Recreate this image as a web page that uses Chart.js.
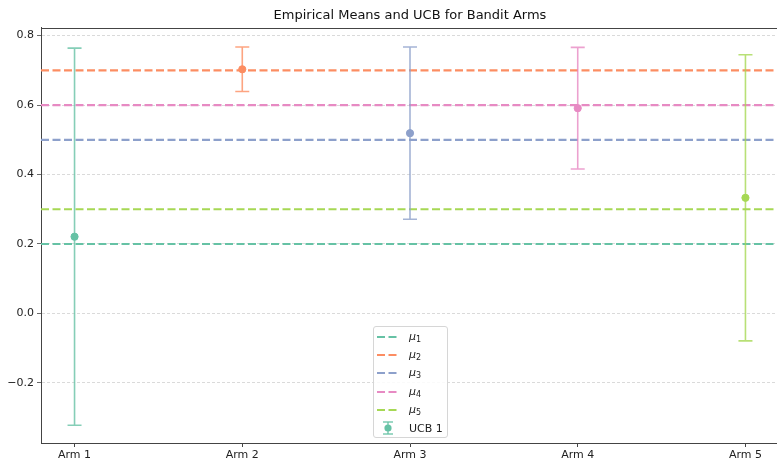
<!DOCTYPE html>
<html>
<head>
<meta charset="utf-8">
<script src="https://cdn.jsdelivr.net/npm/chart.js@4.4.1/dist/chart.umd.min.js"></script>
<style>
  body { margin: 0; background: #fff; overflow: hidden; }
  #wrap { position: relative; width: 784px; height: 462px; }
  #legend {
    position: absolute; left: 373px; top: 326px; width: 73px; height: 110px;
    border: 1px solid #d6d6d6; border-radius: 3px; background: rgba(255,255,255,0.85);
    font-family: "DejaVu Sans", sans-serif; font-size: 11px; color: #222;
  }
  .row { position: absolute; left: 0; height: 18px; display: flex; align-items: center; }
  .row svg { margin-left: 3px; margin-right: 10px; }
  .mu { font-style: italic; }
  .row sub { font-size: 8px; vertical-align: -2px; font-style: normal; }
</style>
</head>
<body>
<div id="wrap">
  <canvas id="grafico" width="784" height="462"></canvas>
  <div id="legend"></div>
</div>
<script>
// dados
const arms = ['Arm 1', 'Arm 2', 'Arm 3', 'Arm 4', 'Arm 5'];
const trueMeans = [0.2, 0.7, 0.5, 0.6, 0.3];
const empMeans = [0.221, 0.703, 0.519, 0.591, 0.333];
const ucbWidth = [0.543, 0.064, 0.248, 0.175, 0.412];
const cores = ['#66c2a5', '#fc8d62', '#8da0cb', '#e78ac3', '#a6d854'];

function rgba(hex, a) {
    let r = parseInt(hex.slice(1, 3), 16), g = parseInt(hex.slice(3, 5), 16), b = parseInt(hex.slice(5, 7), 16);
    return `rgba(${r},${g},${b},${a})`;
}

let datasets = [];
for (let i = 0; i < trueMeans.length; i++) {
    datasets.push({
        type: 'line',
        label: 'mu' + (i + 1),
        data: [{x: -0.2, y: trueMeans[i]}, {x: 4.2, y: trueMeans[i]}],
        borderColor: cores[i],
        borderWidth: 2.2,
        borderDash: [8, 3.5],
        pointRadius: 0,
        order: 2
    });
}
datasets.push({
    type: 'scatter',
    label: 'UCB 1',
    data: empMeans.map((v, i) => ({x: i, y: v})),
    pointBackgroundColor: cores,
    pointBorderColor: cores,
    pointRadius: 3.6,
    order: 0
});

// barras de erro desenhadas com as escalas do chart
const errorBars = {
    id: 'errorBars',
    afterDatasetsDraw(chart) {
        let ctx = chart.ctx, xs = chart.scales.x, ys = chart.scales.y;
        ctx.save();
        for (let i = 0; i < empMeans.length; i++) {
            let x = xs.getPixelForValue(i);
            let top = ys.getPixelForValue(empMeans[i] + ucbWidth[i]);
            let bot = ys.getPixelForValue(empMeans[i] - ucbWidth[i]);
            ctx.strokeStyle = rgba(cores[i], 0.8);
            ctx.lineWidth = 1.6;
            ctx.beginPath();
            ctx.moveTo(x, top); ctx.lineTo(x, bot);
            ctx.moveTo(x - 7, top); ctx.lineTo(x + 7, top);
            ctx.moveTo(x - 7, bot); ctx.lineTo(x + 7, bot);
            ctx.stroke();
        }
        ctx.restore();
    }
};

// linha de cima da moldura (a da direita fica fora da imagem)
const moldura = {
    id: 'moldura',
    afterDraw(chart) {
        let a = chart.chartArea, ctx = chart.ctx;
        let y = Math.round(a.top) + 0.5;
        ctx.save();
        ctx.strokeStyle = '#444';
        ctx.lineWidth = 1;
        ctx.beginPath();
        ctx.moveTo(a.left, y);
        ctx.lineTo(a.right, y);
        ctx.stroke();
        ctx.restore();
    }
};

const fonte = {family: 'DejaVu Sans', size: 11};

new Chart(document.getElementById('grafico'), {
    data: {datasets: datasets},
    plugins: [errorBars, moldura],
    options: {
        responsive: false,
        animation: false,
        layout: {padding: {left: 0, right: 1, top: 0, bottom: 0}},
        plugins: {
            legend: {display: false},
            tooltip: {enabled: false},
            title: {
                display: true,
                fullSize: false,
                text: 'Empirical Means and UCB for Bandit Arms',
                color: '#111',
                font: {family: 'DejaVu Sans', size: 13, weight: 'normal', lineHeight: 1.2},
                padding: {top: 8, bottom: 4}
            }
        },
        scales: {
            x: {
                type: 'linear',
                min: -0.2,
                max: 4.2,
                afterFit: s => { s.height = 19; },
                ticks: {
                    stepSize: 1,
                    includeBounds: false,
                    autoSkip: false,
                    maxRotation: 0,
                    color: '#222',
                    font: fonte,
                    padding: 2,
                    callback: v => arms[v]
                },
                grid: {drawOnChartArea: false, drawTicks: true, tickLength: 4, tickColor: '#444'},
                border: {color: '#444'}
            },
            y: {
                min: -0.373,
                max: 0.823,
                afterFit: s => { s.width = 41; },
                ticks: {
                    stepSize: 0.2,
                    includeBounds: false,
                    color: '#222',
                    font: fonte,
                    padding: 3,
                    callback: v => (Math.abs(v) < 1e-9 ? '0.0' : (v < 0 ? '\u2212' + Math.abs(v).toFixed(1) : v.toFixed(1)))
                },
                grid: {
                    color: 'rgba(176,176,176,0.6)',
                    lineWidth: 0.8,
                    tickBorderDash: [],
                    tickColor: '#444',
                    tickLength: 4
                },
                border: {color: '#444', dash: [3, 2]}
            }
        }
    }
});

// legenda
let legenda = document.getElementById('legend');
let html = '';
for (let i = 0; i < trueMeans.length; i++) {
    html += `<div class="row" style="top:${1 + i * 18.2}px"><svg width="22" height="10"><line x1="0" y1="5" x2="22" y2="5" stroke="${cores[i]}" stroke-width="2.2" stroke-dasharray="8,3.5"/></svg><span class="mu">&mu;<sub>${i + 1}</sub></span></div>`;
}
html += `<div class="row" style="top:${1 + 5 * 18.2}px"><svg width="22" height="14"><line x1="11" y1="1" x2="11" y2="13" stroke="${rgba(cores[0], 0.8)}" stroke-width="1.6"/><line x1="6" y1="1" x2="16" y2="1" stroke="${rgba(cores[0], 0.8)}" stroke-width="1.6"/><line x1="6" y1="13" x2="16" y2="13" stroke="${rgba(cores[0], 0.8)}" stroke-width="1.6"/><circle cx="11" cy="7" r="3.6" fill="${cores[0]}"/></svg><span>UCB 1</span></div>`;
legenda.innerHTML = html;
</script>
</body>
</html>
